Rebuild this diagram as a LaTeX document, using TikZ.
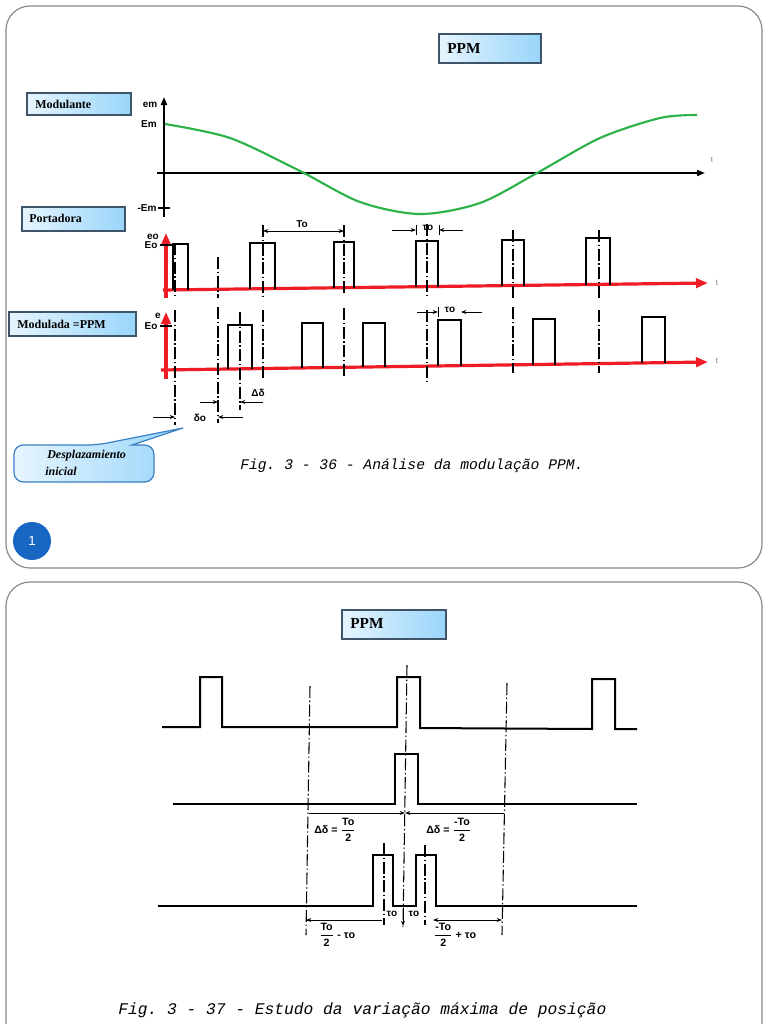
\documentclass[tikz,border=0pt]{standalone}
\usepackage{fontspec}
\setmainfont{Liberation Serif}
\setsansfont{Liberation Sans}
\setmonofont{Liberation Mono}
\usetikzlibrary{arrows.meta}
\definecolor{boxL}{HTML}{E6F5FE}
\definecolor{boxR}{HTML}{98D5FA}
\definecolor{boxB}{HTML}{3F5468}
\definecolor{calB}{HTML}{3B7FC4}
\definecolor{wgreen}{HTML}{2DB24A}
\definecolor{wred}{HTML}{EE1C24}
\definecolor{numblue}{HTML}{1767C2}
\definecolor{slideB}{HTML}{8A8A8A}
\newcommand{\fracsf}[2]{$\displaystyle\frac{\textsf{\textbf{#1}}}{\textsf{\textbf{#2}}}$}
\tikzset{
 slide/.style={draw=slideB, line width=0.9pt, rounded corners=18pt},
 lbox/.style={draw=boxB, line width=0.9pt, left color=boxL, right color=boxR},
 cbox/.style={draw=calB, line width=0.9pt, left color=boxL, right color=boxR},
 ltext/.style={font=\bfseries\fontsize{9}{10}\selectfont, anchor=west, inner sep=0pt},
 ptext/.style={font=\bfseries\fontsize{11.5}{12}\selectfont, anchor=west, inner sep=0pt},
 ctext/.style={font=\bfseries\itshape\fontsize{9}{10}\selectfont, anchor=west, inner sep=0pt},
 alab/.style={font=\sffamily\bfseries\fontsize{7.5}{8}\selectfont, inner sep=0pt},
 flab/.style={font=\sffamily\bfseries\fontsize{8}{9}\selectfont, inner sep=0pt},
 tlab/.style={font=\sffamily\fontsize{6}{6}\selectfont, text=gray, inner sep=0pt},
 wave/.style={line width=1.5pt, black, line join=miter},
 ddash/.style={line width=0.8pt, black, dash pattern=on 9pt off 2pt on 1pt off 2pt},
 redaxis/.style={wred, line width=2.4pt, -{Triangle[length=9pt,width=7pt]}},
 blkaxis/.style={black, line width=1.3pt, -{Triangle[length=6pt,width=4.5pt]}},
 dimarr/.style={line width=0.7pt, -{Stealth[length=4pt,width=3pt]}},
 dimboth/.style={line width=0.7pt, {Stealth[length=4pt,width=3pt]}-{Stealth[length=4pt,width=3pt]}},
 dimline/.style={line width=0.7pt},
 caption/.style={font=\ttfamily\itshape, anchor=west, inner sep=0pt},
}
\begin{document}
\begin{tikzpicture}[x=0.75pt,y=-0.75pt]
\useasboundingbox (0,0) rectangle (768,1024);
\fill[white] (0,0) rectangle (768,1024);
\begin{scope}
\clip (0,0) rectangle (768,1024);
\draw[slide] (6,6) rectangle (762,568);
\draw[slide] (6,582) rectangle (762,1070);
\end{scope}

% ================= SLIDE 1 =================
\path[lbox] (439,34) rectangle (541,63);
\node[ptext] (ppm1) at (447,48) {PPM};
\path[lbox] (27,93) rectangle (131,115);
\node[ltext] (modulante) at (35,104) {Modulante};
\path[lbox] (22,207) rectangle (125,231);
\node[ltext] (portadora) at (29,218) {Portadora};
\path[lbox] (9,312) rectangle (136,336);
\node[ltext] (modulada) at (17,324) {Modulada =PPM};

% callout
\path[cbox, rounded corners=7pt] (60,445) -- (97,445) [sharp corners] -- (183,428) -- (132,445) [rounded corners=7pt] -- (154,445) -- (154,482) -- (14,482) -- (14,445) -- cycle;
\node[ctext] (desp1) at (47,456) {Desplazamiento};
\node[ctext] (desp2) at (45,471) {inicial};

% slide number
\fill[numblue] (32,541) circle (19);
\node[font=\sffamily\fontsize{10}{10}\selectfont, text=white] (num) at (32,541) {1};

% --- modulante graph
\draw[blkaxis] (164,217) -- (164,97);
\draw[blkaxis] (157,173) -- (705,173);
\draw[line width=1pt] (158,208) -- (170,208);
\node[alab] (em) at (150,105) {em};
\node[alab] (Em) at (149,124) {Em};
\node[alab] (mEm) at (147,208) {-Em};
\node[tlab] (t1) at (712,160) {t};
\draw[wgreen, line width=1.6pt] plot[smooth] coordinates {(165,124) (230,138) (300,171) (360,202) (420,214) (480,203) (537,173) (600,138) (660,118) (697,115)};

% --- portadora graph
\draw[redaxis] (163,290) -- (708,283);
\draw[redaxis] (166,298) -- (166,233);
\draw[line width=0.8pt] (160,245) -- (172,245);
\node[alab] (eo) at (153,237) {eo};
\node[alab] (Eo1) at (151,245) {Eo};
\node[tlab] (t2) at (717,283) {t};
\draw[wave] (173,290) |- (188,244) -- (188,290);
\draw[wave] (250,289) |- (275,243) -- (275,289);
\draw[wave] (334,288) |- (354,242) -- (354,288);
\draw[wave] (416,287) |- (438,241) -- (438,287);
\draw[wave] (502,286) |- (524,240) -- (524,286);
\draw[wave] (586,285) |- (610,238) -- (610,285);
\foreach \x/\a/\b in {175/243/298, 218/257/298, 263/225/299, 344/225/295, 427/224/298, 513/230/298, 599/230/298}
  \draw[ddash] (\x,\a) -- (\x,\b);
% To dimension
\draw[dimboth] (263,231) -- (344,231);
\node[alab] (To1) at (302,224) {To};
% tau dimension
\draw[dimarr] (392,230) -- (416,230);
\draw[dimarr] (463,230) -- (439,230);
\draw[dimline] (416,225) -- (416,235);
\draw[dimline] (439,225) -- (439,235);
\node[alab] (tau1) at (428,228) {τo};

% --- modulada graph
\draw[redaxis] (161,370) -- (708,362);
\draw[redaxis] (166,379) -- (166,312);
\draw[line width=0.8pt] (160,326) -- (172,326);
\node[alab] (e2) at (158,316) {e};
\node[alab] (Eo2) at (151,326) {Eo};
\node[tlab] (t3) at (717,361) {t};
\draw[wave] (228,369) |- (252,325) -- (252,369);
\draw[wave] (302,368) |- (323,323) -- (323,368);
\draw[wave] (363,367) |- (385,323) -- (385,367);
\draw[wave] (438,366) |- (461,320) -- (461,366);
\draw[wave] (533,365) |- (555,319) -- (555,365);
\draw[wave] (642,363) |- (665,317) -- (665,363);
\foreach \x/\a/\b in {175/310/425, 218/307/423, 240/312/410, 263/310/378, 344/308/377, 427/310/382, 513/307/373, 599/310/373}
  \draw[ddash] (\x,\a) -- (\x,\b);
% tau dimension modulada
\draw[dimarr] (417,312) -- (438,312);
\draw[dimarr] (482,312) -- (461,312);
\draw[dimline] (438,307) -- (438,317);
\node[alab] (tau2) at (450,310) {τo};
% delta o
\draw[dimarr] (153,417) -- (175,417);
\draw[dimarr] (243,417) -- (218,417);
\node[alab] (deltao) at (200,418) {δo};
% Delta delta
\draw[dimarr] (200,402) -- (218,402);
\draw[dimarr] (263,402) -- (240,402);
\node[alab] (Ddelta) at (258,393) {Δδ};

\node[caption, font=\ttfamily\itshape\fontsize{11}{12}\selectfont] (fig36) at (240,466) {Fig. 3 - 36 - Análise da modulação PPM.};

% ================= SLIDE 2 =================
\path[lbox] (342,610) rectangle (446,639);
\node[ptext] (ppm2) at (350,623) {PPM};

% dash-dot reference lines
\draw[ddash] (310,686) -- (306,935);
\draw[ddash] (407,665) -- (403,927);
\draw[ddash] (507,683) -- (502,935);
\draw[ddash] (384,843) -- (384,925);
\draw[ddash] (425,845) -- (425,925);

% waveforms
\draw[wave] (162,727) -- (200,727) |- (222,677) -- (222,727) -- (397,727) |- (420,677) -- (420,728) -- (592,729) |- (615,679) -- (615,729) -- (637,729);
\draw[wave] (173,804) -- (395,804) |- (418,754) -- (418,804) -- (637,804);
\draw[wave] (158,906) -- (373,906) |- (393,855) -- (393,906) -- (416,906) |- (436,855) -- (436,906) -- (637,906);

% Delta delta dimensions
\draw[dimarr] (309,813) -- (405,813);
\draw[dimarr] (504,813) -- (405,813);
\node[flab, anchor=west] (dd1) at (314,830) {Δδ = \fracsf{To}{2}};
\node[flab, anchor=west] (dd2) at (426,830) {Δδ = \fracsf{-To}{2}};

% bottom dimensions
\draw[dimline] (306,920) -- (382,920);
\draw[dimarr] (330,920) -- (306,920);
\draw[dimboth] (433,920) -- (502,920);
\draw[dimarr] (403,912) -- (403,926);
\node[alab] (tauA) at (392,914) {τo};
\node[alab] (tauB) at (414,914) {τo};
\node[flab] (fr1) at (337,935) {\fracsf{To}{2} - τo};
\node[flab] (fr2) at (455,935) {\fracsf{-To}{2} + τo};

\node[caption, font=\ttfamily\itshape\fontsize{12.2}{13}\selectfont] (fig37) at (118,1010) {Fig. 3 - 37 - Estudo da variação máxima de posição};
\end{tikzpicture}
\end{document}
